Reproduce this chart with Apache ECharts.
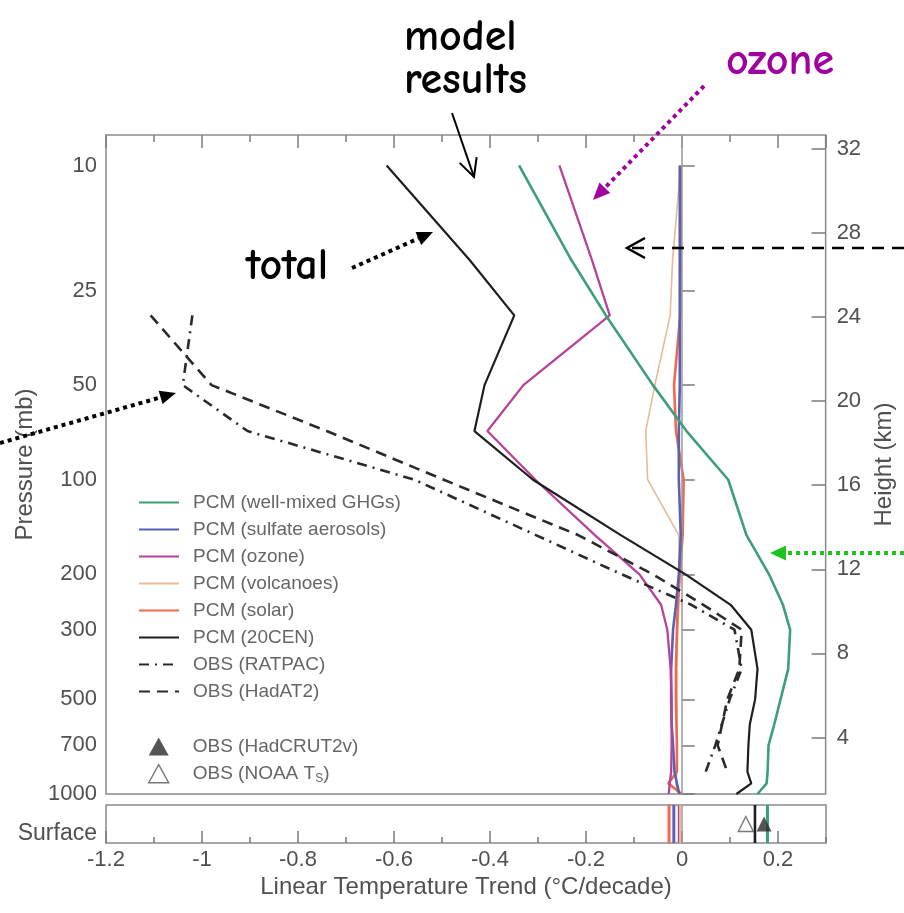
<!DOCTYPE html>
<html><head><meta charset="utf-8">
<script src="https://cdn.jsdelivr.net/npm/echarts@6/dist/echarts.min.js"></script>
<style>html,body{margin:0;padding:0;background:#fff}#c{width:904px;height:913px}</style>
</head><body><div id="c"></div>
<script>
// ---------------- DATA ----------------
const levels = [10, 20, 30, 50, 70, 100, 150, 200, 250, 300, 400, 500, 600, 700, 850, 925, 1000]; // mb
const ghg     = [-0.339, -0.230, -0.158, -0.060, 0.010, 0.097, 0.135, 0.182, 0.211, 0.226, 0.222, 0.206, 0.193, 0.181, 0.179, 0.177, 0.158];
const sulfate = [-0.004, -0.004, -0.004, -0.004, -0.006, -0.006, -0.002, -0.006, -0.012, -0.018, -0.022, -0.022, -0.021, -0.018, -0.015, -0.010, -0.005];
const ozone   = [-0.255, -0.187, -0.150, -0.330, -0.405, -0.305, -0.181, -0.088, -0.043, -0.030, -0.023, -0.021, -0.021, -0.021, -0.022, -0.025, -0.027];
const volcano = [-0.002, -0.019, -0.024, -0.056, -0.075, -0.071, -0.006, -0.004, -0.006, -0.008, -0.010, -0.010, -0.010, -0.010, -0.010, -0.012, -0.008];
const solar   = [-0.002, -0.002, -0.003, -0.016, -0.012, 0.004, 0.002, -0.004, -0.008, -0.010, -0.012, -0.012, -0.011, -0.010, -0.010, -0.028, 0.000];
const cen20   = [-0.615, -0.442, -0.349, -0.411, -0.432, -0.310, -0.127, 0.008, 0.102, 0.145, 0.158, 0.153, 0.142, 0.139, 0.137, 0.145, 0.114];

const obsLevels = [30, 50, 70, 100, 150, 200, 250, 300, 400, 500, 700, 850];
const hadat2 = [-1.107, -0.980, -0.740, -0.496, -0.216, -0.060, 0.045, 0.125, 0.120, 0.095, 0.075, 0.095];
const ratpac = [-1.020, -1.040, -0.905, -0.557, -0.304, -0.125, 0.020, 0.110, 0.125, 0.100, 0.070, 0.050];

const surfaceModelNames  = ['PCM (solar)', 'PCM (sulfate aerosols)', 'PCM (ozone)', 'PCM (volcanoes)', 'PCM (20CEN)', 'PCM (well-mixed GHGs)'];
const surfaceModelValues = [-0.027, -0.017, -0.006, -0.004, 0.152, 0.178];
const surfaceObsNames  = ['OBS (HadCRUT2v)', 'OBS (NOAA Ts)'];
const surfaceObsValues = [0.171, 0.133];

const pressureTicks = [10, 25, 50, 100, 200, 300, 500, 700, 1000];
const heightTicks = [4, 8, 12, 16, 20, 24, 28, 32];

// ---------------- STYLE ----------------
const FONT = '"Liberation Sans", Arial, Helvetica, sans-serif';
const HAND = '"Comic Sans MS", "Comic Neue", "Noto Sans", sans-serif';
const AX = '#505050';
const TICK = '#7a7a7a';
const styles = {
  'PCM (well-mixed GHGs)': {color: '#3c9f77', width: 2.6},
  'PCM (sulfate aerosols)': {color: '#5b5fb5', width: 2.6},
  'PCM (ozone)': {color: '#b8429a', width: 2.3},
  'PCM (volcanoes)': {color: '#e6bc98', width: 1.6},
  'PCM (solar)': {color: '#f0694a', width: 2.6},
  'PCM (20CEN)': {color: '#1e1e1e', width: 2.2},
  'OBS (RATPAC)': {color: '#2a2a2a', width: 2.6, type: [10, 6, 2, 6]},
  'OBS (HadAT2)': {color: '#2a2a2a', width: 2.6, type: [11, 7]}
};
const profiles = [
  ['PCM (volcanoes)', volcano, levels],
  ['PCM (solar)', solar, levels],
  ['PCM (sulfate aerosols)', sulfate, levels],
  ['PCM (ozone)', ozone, levels],
  ['PCM (well-mixed GHGs)', ghg, levels],
  ['OBS (RATPAC)', ratpac, obsLevels],
  ['OBS (HadAT2)', hadat2, obsLevels],
  ['PCM (20CEN)', cen20, levels]
];

const series = [];
profiles.forEach(([name, vals, lv], k) => {
  const st = styles[name];
  const s = {
    name, type: 'line', xAxisIndex: 0, yAxisIndex: 0, symbol: 'none', silent: true,
    data: lv.map((p, i) => [vals[i], p]),
    lineStyle: {color: st.color, width: st.width, type: st.type || 'solid'},
    itemStyle: {color: st.color}, z: 3 + k
  };
  if (k === 0) {
    s.markLine = {silent: true, symbol: 'none', label: {show: false},
      lineStyle: {color: '#9a9a9a', width: 1.5, type: 'solid'}, data: [{xAxis: 0}]};
  }
  series.push(s);
});
surfaceModelNames.forEach((name, i) => {
  const st = styles[name];
  const s = {
    name, type: 'line', xAxisIndex: 2, yAxisIndex: 3, symbol: 'none', silent: true,
    data: [[surfaceModelValues[i], 0], [surfaceModelValues[i], 1]],
    lineStyle: {color: st.color, width: st.width + 0.4}, itemStyle: {color: st.color}, z: 3 + i
  };
  if (i === 0) {
    s.markLine = {silent: true, symbol: 'none', label: {show: false},
      lineStyle: {color: '#9a9a9a', width: 1.5, type: 'solid'}, data: [{xAxis: 0}]};
  }
  series.push(s);
});
series.push({
  name: surfaceObsNames[0], type: 'scatter', xAxisIndex: 2, yAxisIndex: 3, symbol: 'triangle', symbolSize: 15,
  data: [[surfaceObsValues[0], 0.5]], itemStyle: {color: '#2b2b2b'}, z: 12, silent: true
});
series.push({
  name: surfaceObsNames[1], type: 'scatter', xAxisIndex: 2, yAxisIndex: 3, symbol: 'triangle', symbolSize: 15,
  data: [[surfaceObsValues[1], 0.5]], itemStyle: {color: '#ffffff', borderColor: '#555', borderWidth: 1.4}, z: 11, silent: true
});

// ---------------- ANNOTATIONS ----------------
function arrow(x1, y1, x2, y2, o) {
  const a = Math.atan2(y2 - y1, x2 - x1);
  const bx = x2 - o.hl * Math.cos(a), by = y2 - o.hl * Math.sin(a);
  const px = -Math.sin(a) * o.hw / 2, py = Math.cos(a) * o.hw / 2;
  const els = [];
  const end = o.filled ? [bx, by] : [x2, y2];
  els.push({type: 'line', shape: {x1, y1, x2: end[0], y2: end[1]},
    style: {stroke: o.color, lineWidth: o.width, lineDash: o.dash || null, lineCap: 'butt'}, z: 50});
  if (o.filled) {
    els.push({type: 'polygon', shape: {points: [[x2, y2], [bx + px, by + py], [bx - px, by - py]]},
      style: {fill: o.color}, z: 50});
  } else {
    els.push({type: 'polyline', shape: {points: [[bx + px, by + py], [x2, y2], [bx - px, by - py]]},
      style: {stroke: o.color, lineWidth: o.width, fill: null}, z: 50});
  }
  return els;
}
function label(text, x, y, color) {
  return {type: 'text', x, y, z: 50,
    style: {text, fill: color, font: 'bold 44px ' + HAND, textAlign: 'left', textVerticalAlign: 'middle'}};
}
const graphic = [
  label('model', 404, 38, '#000'),
  label('results', 404, 81, '#000'),
  label('ozone', 726, 62, '#a000a0'),
  label('total', 246, 267, '#000'),
  ...arrow(452, 113, 474, 177, {color: '#000', width: 2, hl: 18, hw: 18, filled: false}),
  ...arrow(704, 86, 593, 200, {color: '#a000a0', width: 4, dash: [4, 4], hl: 17, hw: 15, filled: true}),
  ...arrow(352, 268, 433, 232, {color: '#000', width: 4, dash: [4, 4], hl: 16, hw: 14, filled: true}),
  ...arrow(0, 443, 176, 393, {color: '#000', width: 4, dash: [4, 4], hl: 16, hw: 14, filled: true}),
  ...arrow(904, 248, 627, 248, {color: '#000', width: 2.5, dash: [12, 8], hl: 18, hw: 20, filled: false}),
  ...arrow(904, 553, 770, 553, {color: '#1fc21f', width: 4, dash: [4, 4], hl: 16, hw: 15, filled: true})
];

// ---------------- OPTION ----------------
const xRange = {min: -1.2, max: 0.3};
const tickStyle = {color: TICK, width: 1.5};
const labelStyle = {fontSize: 22, color: AX, fontFamily: FONT};
const legendNames = ['PCM (well-mixed GHGs)', 'PCM (sulfate aerosols)', 'PCM (ozone)', 'PCM (volcanoes)', 'PCM (solar)', 'PCM (20CEN)', 'OBS (RATPAC)', 'OBS (HadAT2)'];

const option = {
  animation: false,
  backgroundColor: '#fff',
  grid: [
    {left: 106, top: 135, width: 720, height: 659, show: true, borderColor: '#8a8a8a', borderWidth: 1.5, backgroundColor: 'transparent'},
    {left: 106, top: 805, width: 720, height: 38, show: true, borderColor: '#8a8a8a', borderWidth: 1.5, backgroundColor: 'transparent'}
  ],
  xAxis: [
    {gridIndex: 0, type: 'value', position: 'top', ...xRange, interval: 0.2,
      axisLine: {show: false}, splitLine: {show: false}, axisLabel: {show: false},
      axisTick: {show: true, inside: true, length: 13, lineStyle: tickStyle}},
    {gridIndex: 0, type: 'value', position: 'top', ...xRange, interval: 0.1,
      axisLine: {show: false}, splitLine: {show: false}, axisLabel: {show: false},
      axisTick: {show: true, inside: true, length: 7, lineStyle: tickStyle}},
    {gridIndex: 1, type: 'value', position: 'bottom', ...xRange, interval: 0.2,
      axisLine: {show: false}, splitLine: {show: false},
      axisTick: {show: true, inside: true, length: 12, lineStyle: tickStyle},
      axisLabel: {...labelStyle, margin: 6, showMaxLabel: false},
      name: 'Linear Temperature Trend (°C/decade)', nameLocation: 'middle', nameGap: 32,
      nameTextStyle: {fontSize: 24, color: AX, fontFamily: FONT}},
    {gridIndex: 1, type: 'value', position: 'bottom', ...xRange, interval: 0.1,
      axisLine: {show: false}, splitLine: {show: false}, axisLabel: {show: false},
      axisTick: {show: true, inside: true, length: 6, lineStyle: tickStyle}}
  ],
  yAxis: [
    {gridIndex: 0, type: 'log', logBase: 10, min: 8, max: 1000, inverse: true, show: false},
    {gridIndex: 0, type: 'value', position: 'left', min: Math.log10(8), max: 3, inverse: true,
      axisLine: {show: false}, splitLine: {show: false},
      axisTick: {show: true, inside: true, length: 13, lineStyle: tickStyle, customValues: pressureTicks.map(Math.log10)},
      axisLabel: {...labelStyle, margin: 9, customValues: pressureTicks.map(Math.log10),
        formatter: v => String(Math.round(Math.pow(10, v)))},
      name: 'Pressure (mb)', nameLocation: 'middle', nameRotate: 90, nameGap: 69,
      nameTextStyle: {fontSize: 24, color: AX, fontFamily: FONT}},
    {gridIndex: 0, type: 'value', position: 'right', min: 1.31, max: 32.66,
      axisLine: {show: false}, splitLine: {show: false},
      axisTick: {show: true, inside: true, length: 14, lineStyle: tickStyle, customValues: heightTicks},
      axisLabel: {...labelStyle, margin: 11, customValues: heightTicks},
      name: 'Height (km)', nameLocation: 'middle', nameRotate: 90, nameGap: 42,
      nameTextStyle: {fontSize: 24, color: AX, fontFamily: FONT}},
    {gridIndex: 1, type: 'value', min: 0, max: 1, position: 'left',
      axisLine: {show: false}, splitLine: {show: false}, axisTick: {show: false},
      axisLabel: {...labelStyle, fontSize: 23, margin: 9, customValues: [0.25], formatter: () => 'Surface'}}
  ],
  legend: [
    {orient: 'vertical', left: 138, top: 493, padding: 0, itemWidth: 40, itemHeight: 14, itemGap: 8,
      selectedMode: false, data: legendNames,
      itemStyle: {opacity: 0, color: 'rgba(0,0,0,0)', borderWidth: 0},
      textStyle: {fontSize: 19, color: '#666', fontFamily: FONT, padding: [0, 0, 0, 9]}},
    {orient: 'vertical', left: 148, top: 737, padding: 0, itemWidth: 20, itemHeight: 18, itemGap: 8,
      selectedMode: false,
      data: [
        {name: surfaceObsNames[0], icon: 'triangle', itemStyle: {color: '#2b2b2b'}},
        {name: surfaceObsNames[1], icon: 'triangle', itemStyle: {color: '#fff', borderColor: '#555', borderWidth: 1.4}}
      ],
      formatter: n => n === 'OBS (NOAA Ts)' ? 'OBS (NOAA T{s|S})' : n,
      textStyle: {fontSize: 19, color: '#666', fontFamily: FONT, padding: [0, 0, 0, 19],
        rich: {s: {fontSize: 12, color: '#666', fontFamily: FONT, padding: [9, 0, 0, 0]}}}}
  ],
  graphic,
  series
};
const chart = echarts.init(document.getElementById('c'));
chart.setOption(option);
</script>
</body></html>
